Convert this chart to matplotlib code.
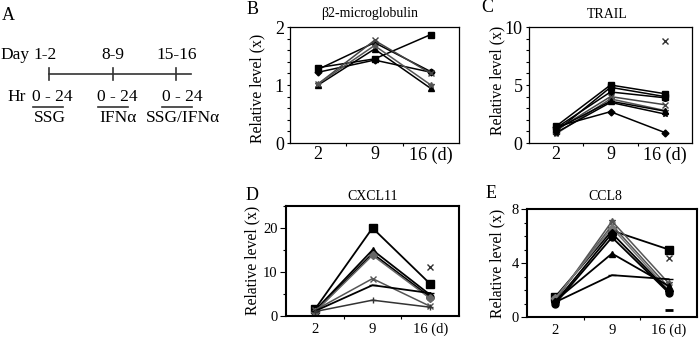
import numpy as np
import matplotlib
matplotlib.use("Agg")
import matplotlib.pyplot as plt

plt.rcParams['font.family'] = ['Liberation Serif', 'DejaVu Serif']

W, H = 699, 338
days = ["2", "9", "16 (d)"]
nan = np.nan

# Panel B: beta2-microglobulin
b2m_square = [1.30, 1.45, 1.87]
b2m_diamond = [1.22, 1.43, 1.22]
b2m_circle = [1.27, 1.73, 1.23]
b2m_x = [1.02, 1.77, 1.20]
b2m_triangle = [1.00, 1.62, 0.94]
b2m_star = [1.02, 1.68, 1.00]

# Panel C: TRAIL
trail_square = [1.45, 5.0, 4.25]
trail_square2 = [1.0, 4.8, 4.0]
trail_circle = [1.3, 4.4, 3.9]
trail_x = [1.1, 4.0, 3.3]
trail_star = [0.8, 3.8, 2.8]
trail_triangle = [1.2, 3.6, 2.75]
trail_asterisk = [0.9, 3.5, 2.5]
trail_diamond = [1.4, 2.7, 0.9]
trail_x2 = [nan, nan, 8.8]

# Panel D: CXCL11
cxcl11_square = [1.5, 20.0, 7.3]
cxcl11_triangle = [1.2, 15.0, 4.8]
cxcl11_circle = [1.0, 14.2, 4.3]
cxcl11_grey = [0.9, 13.8, 4.0]
cxcl11_x = [1.3, 8.5, 2.2]
cxcl11_dash = [1.1, 7.0, 5.2]
cxcl11_plus = [1.0, 3.6, 2.0]
cxcl11_x2 = [nan, nan, 11.1]

# Panel E: CCL8
ccl8_square = [1.5, 6.4, 5.0]
ccl8_star = [1.2, 7.1, 2.5]
ccl8_x = [1.3, 6.8, 2.2]
ccl8_grey = [1.4, 6.6, 2.0]
ccl8_diamond = [1.1, 6.2, 1.9]
ccl8_circle = [1.0, 5.9, 1.8]
ccl8_triangle = [1.2, 4.7, 2.3]
ccl8_dash = [1.1, 3.1, 2.8]
ccl8_x2 = [nan, nan, 4.4]
ccl8_dash2 = [nan, nan, 0.5]

fig = plt.figure(figsize=(W / 100, H / 100), dpi=100)

# overlay axes in pixel coordinates for panel A and texts
ov = fig.add_axes([0, 0, 1, 1])
ov.set_xlim(0, W)
ov.set_ylim(H, 0)
ov.axis('off')
ov.set_zorder(-1)


def pax(left, right, top, bottom):
    return fig.add_axes([left / W, 1 - bottom / H, (right - left) / W, (bottom - top) / H])


def style(ax, ylim, major, minor, spw, majlen, lsize, xpad):
    ax.set_xlim(0.5, 3.5)
    ax.set_ylim(*ylim)
    ax.set_xticks([1, 2, 3])
    ax.set_xticklabels(days)
    ax.set_xticks([1.5, 2.5], minor=True)
    ax.tick_params(axis='x', which='major', length=0, labelsize=lsize, pad=xpad)
    ax.tick_params(axis='x', which='minor', length=2.5, direction='out', width=0.8)
    ax.set_yticks(major)
    ax.set_yticks(minor, minor=True)
    ax.tick_params(axis='y', which='major', direction='out', length=majlen, width=0.8,
                   labelsize=lsize, pad=2)
    ax.tick_params(axis='y', which='minor', direction='out', length=2, width=0.8)
    for s in ax.spines.values():
        s.set_linewidth(spw)


def series(ax, y, marker, color='black', ms=4, lw=1.1, mew=1.0):
    ax.plot([1, 2, 3], y, marker=marker, color=color, ms=ms, lw=lw,
            mec=color, mfc=color, mew=mew)


# Panel B
axB = pax(290, 459, 27, 143)
style(axB, (0, 2), [0, 1, 2], np.arange(0, 2.01, 0.2), 0.9, 2.5, 13, 2.5)
series(axB, b2m_square, 's')
series(axB, b2m_diamond, 'D', ms=3.5)
series(axB, b2m_circle, 'o')
series(axB, b2m_x, 'x', color='#444444')
series(axB, b2m_triangle, '^')
series(axB, b2m_star, '*', color='#555555')

# Panel C
axC = pax(529, 692, 27, 143)
style(axC, (0, 10), [0, 5, 10], np.arange(0, 10.01, 1), 0.9, 2.5, 13, 2.5)
series(axC, trail_square, 's')
series(axC, trail_square2, 's')
series(axC, trail_circle, 'o')
series(axC, trail_x, 'x', color='#444444')
series(axC, trail_star, '*', color='#555555')
series(axC, trail_triangle, '^')
series(axC, trail_asterisk, '*')
series(axC, trail_diamond, 'D', ms=3.5)
series(axC, trail_x2, 'x', color='#333333')

# Panel D
axD = pax(286, 459, 206, 316)
style(axD, (0, 25), [0, 10, 20], np.arange(0, 25.01, 5), 1.5, 4, 10.5, 5)
series(axD, cxcl11_square, 's', ms=6, lw=1.3)
series(axD, cxcl11_triangle, '^', ms=5, lw=1.3)
series(axD, cxcl11_circle, 'o', ms=5, lw=1.3)
series(axD, cxcl11_grey, 'D', color='#666666', ms=4)
series(axD, cxcl11_x, 'x', color='#555555', ms=5)
series(axD, cxcl11_dash, '_', ms=6, lw=1.3)
series(axD, cxcl11_plus, '+', color='#333333', ms=5)
series(axD, cxcl11_x2, 'x', color='#333333', ms=5)

# Panel E
axE = pax(527, 697, 209, 317)
style(axE, (0, 8), [0, 4, 8], np.arange(0, 8.01, 1), 1.5, 4, 10.5, 5)
series(axE, ccl8_square, 's', ms=6, lw=1.3)
series(axE, ccl8_star, '*', color='#555555', ms=5)
series(axE, ccl8_x, 'x', color='#555555', ms=5)
series(axE, ccl8_grey, 'D', color='#777777', ms=4)
series(axE, ccl8_diamond, 'D', ms=4, lw=1.3)
series(axE, ccl8_circle, 'o', ms=5, lw=1.3)
series(axE, ccl8_triangle, '^', ms=5, lw=1.3)
series(axE, ccl8_dash, '_', ms=6, lw=1.3)
series(axE, ccl8_x2, 'x', color='#333333', ms=5)
series(axE, ccl8_dash2, '_', ms=6, mew=2)

# Titles, letters, ylabels
tf = dict(ha='center', va='center')
ov.text(370, 13, 'β2-microglobulin', fontsize=10, **tf)
ov.text(607, 15, 'TRAIL', fontsize=10, **tf)
ov.text(373, 196, 'CXCL11', fontsize=10, **tf)
ov.text(605, 197, 'CCL8', fontsize=10, **tf)
ov.text(253, 10, 'B', fontsize=13, **tf)
ov.text(487, 8, 'C', fontsize=13, **tf)
ov.text(252, 196, 'D', fontsize=13, **tf)
ov.text(491, 194, 'E', fontsize=13, **tf)
for x, y in [(257.5, 88), (497, 80), (252.5, 260), (497, 263)]:
    ov.text(x, y, 'Relative level (x)', fontsize=11.3, rotation=90, **tf)

# Panel A
ov.text(8, 15, 'A', fontsize=13, **tf)
ov.text(0, 55, 'Day', fontsize=12.5, ha='left', va='center')
for x, t in [(45, '1-2'), (113, '8-9'), (177, '15-16')]:
    ov.text(x, 55, t, fontsize=12.5, **tf)
ov.plot([49, 191], [74, 74], color='#333333', lw=1.2)
for x in [49, 113, 176]:
    ov.plot([x, x], [68, 80], color='#333333', lw=1.2)
ov.text(7, 97, 'Hr', fontsize=12.5, ha='left', va='center')
for x in [52, 117, 182]:
    ov.text(x, 97, '0 - 24', fontsize=12.5, **tf)
for x0, x1 in [(33, 63), (98, 128), (162, 192)]:
    ov.plot([x0, x1], [107, 107], color='#333333', lw=1.2)
for x, t in [(50, 'SSG'), (118, 'IFNα'), (183, 'SSG/IFNα')]:
    ov.text(x, 118, t, fontsize=12.5, **tf)

fig.savefig('out.png', dpi=100)
